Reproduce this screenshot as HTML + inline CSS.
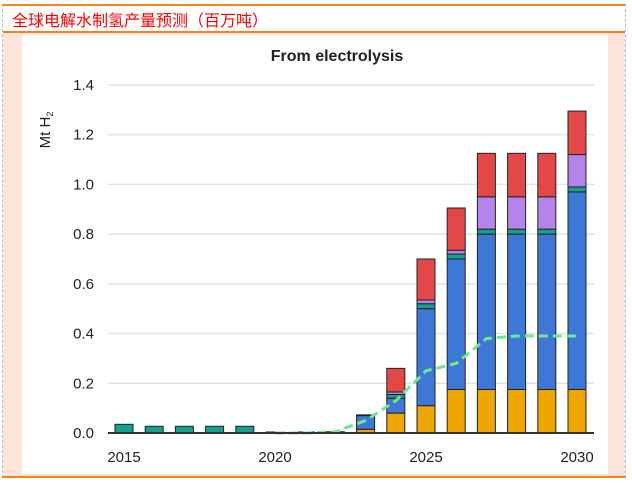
<!DOCTYPE html>
<html><head><meta charset="utf-8"><style>
body{margin:0;width:632px;height:483px;background:#fff;overflow:hidden;font-family:"Liberation Sans",Arial,sans-serif}
#frame{position:absolute;left:2px;top:4px;width:624px;height:474px;border-left:1px dashed #bbb;border-right:1px dashed #bbb;border-top:2px solid #f58220;border-bottom:2px solid #f58220;box-sizing:border-box}
#head{position:absolute;left:0;top:0;width:622px;height:25px;border-bottom:2px solid #f58220;background:#fff}
#head span{position:absolute;left:9px;top:1px;font-size:16px;color:#f00;font-family:"Liberation Sans","Noto Sans CJK SC",sans-serif}
#bg{position:absolute;left:0;top:27px;width:622px;height:443px;background:#fce4d8}
svg{position:absolute;left:0;top:0}
</style></head><body>
<div id="frame">
<div id="head"><span>全球电解水制氢产量预测（百万吨）</span></div>
<div id="bg"></div>
</div>
<svg id="chart" width="632" height="483">
<rect x="22" y="35" width="586" height="439" fill="#fff"/>
<text x="337" y="61" text-anchor="middle" font-size="16" font-weight="bold" fill="#222">From electrolysis</text>
<text transform="translate(50,130) rotate(-90)" text-anchor="middle" font-size="15" fill="#222">Mt H<tspan font-size="9" dy="3">2</tspan></text>
<g id="grid"></g><g id="bars"></g><g id="line"></g><g id="axes"></g>
</svg>
<script>
const years=[2015,2016,2017,2018,2019,2020,2021,2022,2023,2024,2025,2026,2027,2028,2029,2030];
const yellow=[0,0,0,0,0,0,0,0,0.015,0.08,0.11,0.175,0.175,0.175,0.175,0.175];
const blue=[0,0,0,0,0,0,0,0,0.055,0.06,0.39,0.525,0.625,0.625,0.625,0.795];
const teal=[0.035,0.027,0.027,0.027,0.027,0.004,0.004,0.005,0.003,0.015,0.02,0.02,0.02,0.02,0.02,0.02];
const purple=[0,0,0,0,0,0,0,0,0,0.01,0.015,0.015,0.13,0.13,0.13,0.13];
const red=[0,0,0,0,0,0,0,0,0,0.095,0.165,0.17,0.175,0.175,0.175,0.175];
const lineYears=[2020,2021,2022,2023,2024,2025,2026,2027,2028,2029,2030];
const lineVals=[0,0,0.005,0.05,0.13,0.25,0.28,0.38,0.39,0.39,0.39];
const yTicks=[0,0.2,0.4,0.6,0.8,1.0,1.2,1.4];
const xTicks=[2015,2020,2025,2030];
const NS='http://www.w3.org/2000/svg';
const X=y=>124+(y-2015)*30.2;
const Y=v=>433-v*248.6;
function mk(t,a,p){const e=document.createElementNS(NS,t);for(const k in a)e.setAttribute(k,a[k]);document.getElementById(p).appendChild(e);return e;}
yTicks.forEach(t=>{
 if(t>0){const g=mk('line',{x1:108,x2:594,y1:Y(t),y2:Y(t),stroke:'#e3e3e3','stroke-width':1.5},'grid');
 
 }
 const l=mk('text',{x:94,y:Y(t)+5,'text-anchor':'end','font-size':15,fill:'#222'},'axes');l.textContent=t.toFixed(1);
 
 
});
xTicks.forEach(t=>{const l=mk('text',{x:X(t),y:462,'text-anchor':'middle','font-size':15,fill:'#222'},'axes');l.textContent=t;
 
 });
const series=[[yellow,'#eea600','yellow'],[blue,'#3d78d6','blue'],[teal,'#13a08c','teal'],[purple,'#b484ec','purple'],[red,'#e34848','red']];
years.forEach((yr,i)=>{let base=0;series.forEach(([arr,c,n])=>{const v=arr[i];if(v<=0)return;
 const r=mk('rect',{x:X(yr)-9,y:Y(base+v),width:18,height:Y(base)-Y(base+v),fill:c,stroke:'#222','stroke-width':1},'bars');
 
 
 base+=v;});});
let d='';lineVals.forEach((v,i)=>{d+=(i?'L':'M')+X(lineYears[i])+','+Y(v);});
const p=mk('path',{d:d,fill:'none',stroke:'#74e690','stroke-width':3,'stroke-dasharray':'9,5','stroke-linejoin':'round'},'line');


const ax=mk('line',{x1:108,x2:594,y1:433,y2:433,stroke:'#333','stroke-width':2},'axes');


</script>
</body></html>
